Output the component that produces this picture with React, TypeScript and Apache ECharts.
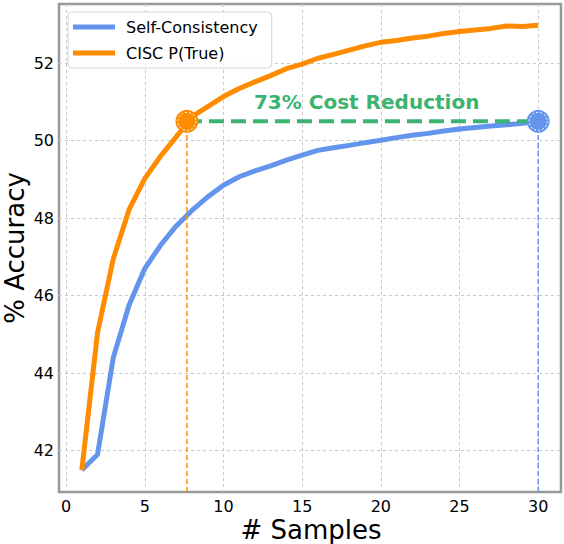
import { useEffect, useRef } from "react"
import * as echarts from "echarts"

// number of samples drawn per question
const samples = [
  1, 2, 3, 4, 5, 6, 7, 8, 9, 10, 11, 12, 13, 14, 15, 16, 17, 18, 19, 20, 21, 22,
  23, 24, 25, 26, 27, 28, 29, 30,
]
const selfConsistency = [
  41.5, 41.9, 44.4, 45.75, 46.7, 47.3, 47.8, 48.2, 48.55, 48.85, 49.07, 49.22,
  49.35, 49.5, 49.63, 49.75, 49.82, 49.88, 49.95, 50.01, 50.08, 50.14, 50.19,
  50.25, 50.3, 50.34, 50.38, 50.41, 50.45, 50.5,
]
const ciscPTrue = [
  41.5, 45.05, 46.95, 48.22, 49.02, 49.6, 50.1, 50.62, 50.88, 51.14, 51.35,
  51.52, 51.68, 51.86, 51.98, 52.13, 52.23, 52.34, 52.45, 52.54, 52.59, 52.65,
  52.7, 52.77, 52.82, 52.86, 52.9, 52.96, 52.95, 52.98,
]
const xTicks = [0, 5, 10, 15, 20, 25, 30]
const yTicks = [42, 44, 46, 48, 50, 52]

// the matched accuracy and the sample counts where each method reaches it
const targetAcc = 50.5
const ciscSamples = 7.68
const scSamples = 30
const annotationX = 19.1
const annotationText = "73% Cost Reduction"

const X_MIN = -0.45
const X_MAX = 31.45
const Y_MIN = 40.93
const Y_MAX = 53.53

const BLUE = "#6495ED"
const ORANGE = "#FF8C00"
const GREEN = "#3CB371"
const FONT = "DejaVu Sans"

export default function App() {
  const chartRef = useRef<HTMLDivElement>(null)

  useEffect(() => {
    if (!chartRef.current) return
    const chart = echarts.init(chartRef.current, undefined, { renderer: "svg" })

    const pairs = (ys: number[]) => samples.map((x, i) => [x, ys[i]])

    chart.setOption({
      animation: false,
      textStyle: { fontFamily: FONT },
      grid: {
        left: 59,
        top: 4,
        width: 502,
        height: 488,
        containLabel: false,
        outerBoundsMode: "none",
        show: true,
        borderColor: "#999",
        borderWidth: 2.5,
      },
      // axis titles placed by hand so they sit where the reference has them
      graphic: [
        {
          type: "text",
          x: 311,
          y: 530,
          style: {
            text: "# Samples",
            textAlign: "center",
            textVerticalAlign: "middle",
            fontFamily: FONT,
            fontSize: 26,
            fill: "#000",
          },
        },
        {
          type: "text",
          x: 15,
          y: 248,
          rotation: Math.PI / 2,
          style: {
            text: "% Accuracy",
            textAlign: "center",
            textVerticalAlign: "middle",
            fontFamily: FONT,
            fontSize: 26,
            fill: "#000",
          },
        },
      ],
      legend: {
        data: ["Self-Consistency", "CISC P(True)"],
        orient: "vertical",
        left: 68,
        top: 12,
        icon: "rect",
        itemWidth: 42,
        itemHeight: 5,
        itemGap: 6,
        padding: [5, 14, 5, 5],
        backgroundColor: "rgba(255,255,255,0.85)",
        borderColor: "#d4d4d4",
        borderWidth: 1,
        borderRadius: 4,
        textStyle: {
          fontFamily: FONT,
          fontSize: 16,
          color: "#000",
          lineHeight: 20,
          padding: [0, 0, 0, 6],
        },
      },
      xAxis: {
        type: "value",
        min: X_MIN,
        max: X_MAX,
        axisLine: { show: false },
        axisTick: { show: false, customValues: xTicks },
        axisLabel: {
          customValues: xTicks,
          fontFamily: FONT,
          fontSize: 16,
          color: "#000",
          margin: 6,
        },
        splitLine: {
          show: true,
          lineStyle: { color: "#c8c8c8", width: 1, type: [3, 3] },
        },
      },
      yAxis: {
        type: "value",
        min: Y_MIN,
        max: Y_MAX,
        axisLine: { show: false },
        axisTick: { show: false, customValues: yTicks },
        axisLabel: {
          customValues: yTicks,
          fontFamily: FONT,
          fontSize: 16,
          color: "#000",
          margin: 5,
        },
        splitLine: {
          show: true,
          lineStyle: { color: "#c8c8c8", width: 1, type: [3, 3] },
        },
      },
      series: [
        {
          name: "Self-Consistency",
          type: "line",
          data: pairs(selfConsistency),
          showSymbol: false,
          color: BLUE,
          lineStyle: { color: BLUE, width: 5 },
          z: 2,
        },
        {
          name: "CISC P(True)",
          type: "line",
          data: pairs(ciscPTrue),
          showSymbol: false,
          color: ORANGE,
          lineStyle: { color: ORANGE, width: 5 },
          z: 3,
        },
        {
          type: "line",
          data: [
            [ciscSamples, Y_MIN],
            [ciscSamples, targetAcc],
          ],
          showSymbol: false,
          silent: true,
          lineStyle: { color: ORANGE, width: 1.5, type: [5, 3] },
          z: 4,
        },
        {
          type: "line",
          data: [
            [scSamples, Y_MIN],
            [scSamples, targetAcc],
          ],
          showSymbol: false,
          silent: true,
          lineStyle: { color: BLUE, width: 1.5, type: [5, 3] },
          z: 4,
        },
        {
          type: "line",
          data: [
            [ciscSamples, targetAcc],
            [scSamples, targetAcc],
          ],
          showSymbol: false,
          silent: true,
          lineStyle: { color: GREEN, width: 4, type: [15, 7] },
          z: 5,
        },
        {
          type: "scatter",
          data: [[ciscSamples, targetAcc]],
          symbolSize: 23,
          silent: true,
          itemStyle: { color: ORANGE, opacity: 1 },
          z: 6,
        },
        {
          type: "scatter",
          data: [[scSamples, targetAcc]],
          symbolSize: 23,
          silent: true,
          itemStyle: { color: BLUE, opacity: 1 },
          z: 6,
        },
        {
          type: "scatter",
          data: [
            [ciscSamples, targetAcc],
            [scSamples, targetAcc],
          ],
          symbolSize: 18,
          silent: true,
          itemStyle: {
            color: "transparent",
            borderColor: "#fff",
            borderWidth: 1,
            borderType: [2, 2],
            opacity: 1,
          },
          z: 7,
        },
        {
          type: "scatter",
          data: [[annotationX, targetAcc]],
          symbolSize: 0,
          silent: true,
          itemStyle: { opacity: 1 },
          label: {
            show: true,
            position: "top",
            distance: 9,
            formatter: annotationText,
            fontFamily: FONT,
            fontSize: 20,
            fontWeight: "bold",
            color: GREEN,
            opacity: 1,
          },
          z: 8,
        },
      ],
    })

    return () => chart.dispose()
  }, [])

  return (
    <div
      ref={chartRef}
      style={{ position: "absolute", left: 0, top: 0, width: 564, height: 544 }}
    />
  )
}
